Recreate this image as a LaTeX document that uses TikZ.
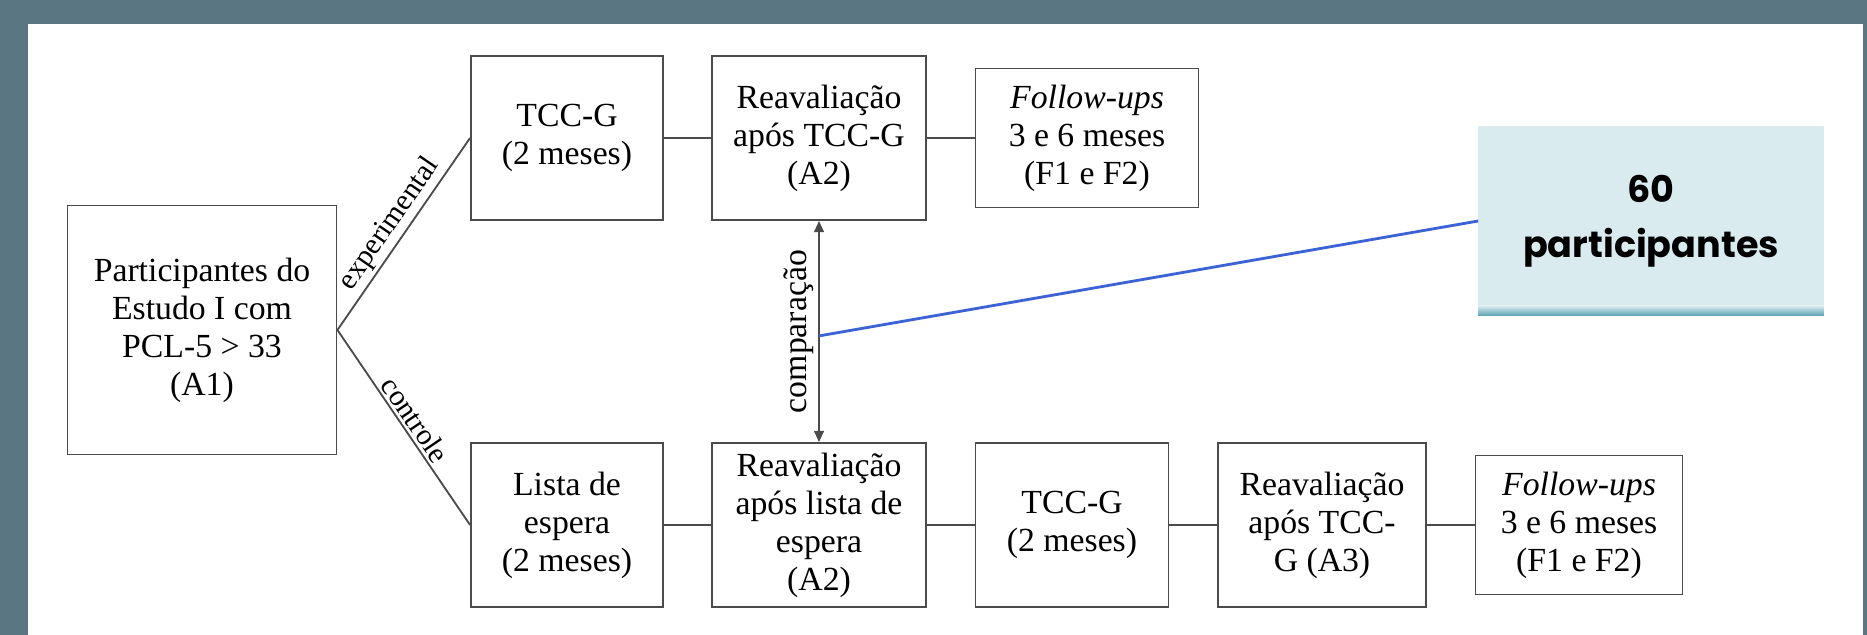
\documentclass[tikz,border=0pt]{standalone}
\usepackage{fontspec}
\setmainfont{Liberation Serif}
\newfontfamily\gothic{Poppins}
\usetikzlibrary{arrows.meta}
\definecolor{slate}{RGB}{90,118,130}
\definecolor{paleblue}{RGB}{218,235,240}
\definecolor{stripe}{RGB}{92,160,180}
\definecolor{linkblue}{RGB}{59,99,214}
\definecolor{boxline}{RGB}{75,75,75}

\begin{document}
\begin{tikzpicture}[x=0.025cm,y=-0.025cm,
        box/.style={draw=boxline,line width=1.3pt,align=center,inner sep=0pt,
            font=\fontsize{24}{27}\selectfont},
        lbl/.style={font=\fontsize{21}{24}\selectfont,inner sep=2pt},
        link/.style={draw=boxline,line width=1.3pt}]
        \fill[slate](0,0)rectangle(1867,635);
        \fill[white](28,24)rectangle(1863,635);

        \node[box,minimum width=6.725cm,minimum height=6.225cm](a1)at(202,330)
            {Participantes do\\Estudo I com\\PCL-5 > 33\\(A1)};

        \node[box,minimum width=4.8cm,minimum height=4.1cm](tcc1)at(567,138){TCC-G\\(2 meses)};
        \node[box,minimum width=5.35cm,minimum height=4.1cm](rtop)at(819,138){Reavaliação\\após TCC-G\\(A2)};
        \node[box,minimum width=5.575cm,minimum height=3.475cm](fup1)at(1087,138)
            {\textit{Follow-ups}\\3 e 6 meses\\(F1 e F2)};

        \node[box,minimum width=4.8cm,minimum height=4.1cm](lista)at(567,525){Lista de\\espera\\(2 meses)};
        \node[box,minimum width=5.35cm,minimum height=4.1cm](rbot)at(819,525)
            {Reavaliação\\após lista de\\espera\\(A2)};
        \node[box,minimum width=4.825cm,minimum height=4.1cm](tcc2)at(1072,525){TCC-G\\(2 meses)};
        \node[box,minimum width=5.2cm,minimum height=4.1cm](a3)at(1322,525){Reavaliação\\após TCC-\\G (A3)};
        \node[box,minimum width=5.175cm,minimum height=3.475cm](fup2)at(1579,525)
            {\textit{Follow-ups}\\3 e 6 meses\\(F1 e F2)};

        \node[fill=paleblue,minimum width=8.625cm,minimum height=4.725cm,inner sep=0pt,align=center,
            font=\gothic\bfseries\fontsize{26}{39}\selectfont](total)at(1651,221){60\\participantes};
        \shade[top color=paleblue,bottom color=stripe]([yshift=0.25cm]total.south west)rectangle(total.south east);

        \draw[link](a1.east)--node[sloped,above,lbl]{experimental}(tcc1.west);
        \draw[link](a1.east)--node[sloped,above,lbl]{controle}(lista.west);
        \draw[link](tcc1)--(rtop);
        \draw[link](rtop)--(fup1);
        \draw[link](lista)--(rbot);
        \draw[link](rbot)--(tcc2);
        \draw[link](tcc2)--(a3);
        \draw[link](a3)--(fup2);

        \draw[link,{Triangle[length=8pt,width=7pt]}-{Triangle[length=8pt,width=7pt]}]
            (rtop.south)--node[rotate=90,anchor=south,inner sep=3pt,font=\fontsize{24}{27}\selectfont]{comparação}
            coordinate[pos=0.52](cmp)(rbot.north);
        \draw[linkblue,line width=2pt](cmp)--(total.west);
    \end{tikzpicture}
\end{document}
